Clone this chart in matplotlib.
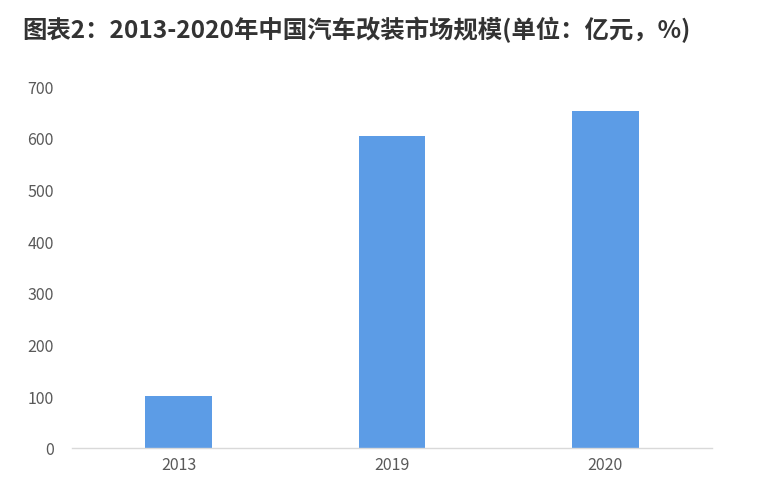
import matplotlib
matplotlib.use("Agg")
import matplotlib.pyplot as plt

years = ["2013", "2019", "2020"]
values = [100, 604, 651]
yticks = [0, 100, 200, 300, 400, 500, 600, 700]
title = "图表2：2013-2020年中国汽车改装市场规模(单位：亿元，%)"

plt.rcParams['font.family'] = ['Noto Sans CJK SC', 'DejaVu Sans']

fig = plt.figure(figsize=(7.6, 4.89), dpi=100)
ax = fig.add_axes([72/760, 40/489, 640/760, 362/489])
x = list(range(len(years)))
ax.bar(x, values, width=0.313, color='#5C9CE6', zorder=2)
ax.set_xlim(-0.5, 2.5)
ax.set_ylim(0, 700)
ax.set_yticks(yticks)
ax.set_xticks(x)
ax.set_xticklabels(years)
for s in ['top', 'right', 'left']:
    ax.spines[s].set_visible(False)
ax.spines['bottom'].set_color('#D9D9D9')
ax.spines['bottom'].set_linewidth(1.0)
ax.tick_params(axis='both', length=0, labelsize=11.5, labelcolor='#595959')
ax.tick_params(axis='y', pad=13)
ax.tick_params(axis='x', pad=6)

fig.text(22/760, 1 - 30/489, title, fontsize=17.6, fontweight='bold',
         color='#333333', va='center', ha='left')

fig.savefig("out.png", dpi=100)
